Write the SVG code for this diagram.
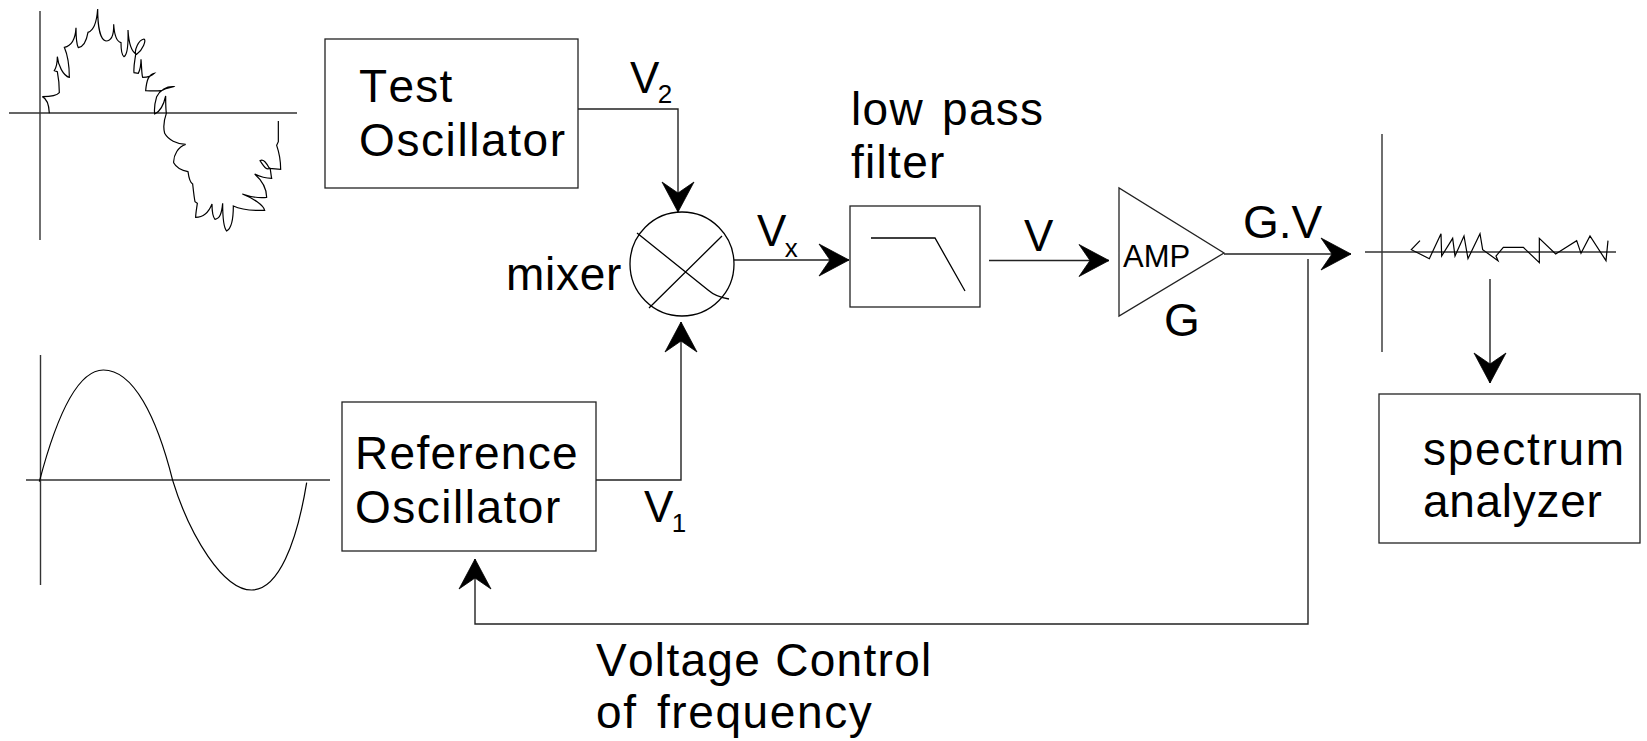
<svg xmlns="http://www.w3.org/2000/svg" width="1647" height="741" viewBox="0 0 1647 741">
<style>
text{font-family:"Liberation Sans",Arial,sans-serif;font-size:46px;fill:#000;letter-spacing:1.3px;font-kerning:none}
.s{fill:none;stroke:#000;stroke-width:1.3}
.a{fill:none;stroke:#333;stroke-width:1.4}
.w{fill:none;stroke:#000;stroke-width:3.6}
.box{fill:#fff;stroke:#222;stroke-width:1.3}
.c{fill:none;stroke:#222;stroke-width:1.4;marker-end:url(#arr)}
.v{font-size:44px}
.sub{font-size:26px}
</style>
<defs><marker id="arr" markerUnits="userSpaceOnUse" markerWidth="36" markerHeight="36" refX="30" refY="17" orient="auto" overflow="visible"><path d="M0 1L30 17L0 33L11 17Z" fill="#000" stroke="#000" stroke-width=".8" stroke-linejoin="miter"/></marker></defs>
<rect width="1647" height="741" fill="#fff"/>
<g id="connectors">
<path class="c" d="M578 109H678V212"/>
<path class="c" d="M596 480H681V322"/>
<path class="c" d="M734 260H849"/>
<path class="c" d="M989 260.500H1109"/>
<path class="c" d="M1224 254H1351"/>
<path class="c" d="M1308 259V624H475V559"/>
<path class="c" d="M1490 279V383"/>
</g>
<g id="test-waveform">
<path class="a" d="M40 11V240M9 113H297"/>
<g transform="scale(.33333)"><path class="w" d="M148 340C147 316 140 296 127 290C150 290 170 288 178 278C178 255 176 235 172 215L163 212C170 200 172 185 172 170C174 195 190 228 208 232C208 200 205 170 193 142C212 138 226 120 228 83C228 110 228 130 235 143C250 140 260 120 264 97C280 92 290 70 293 27C293 75 300 120 318 123C335 122 342 105 341 73C343 105 350 125 363 128C363 145 365 165 372 170C382 165 385 130 384 90C386 125 392 155 410 163C428 150 440 120 432 117C415 120 403 150 407 163C405 180 400 200 402 218L415 220C420 210 423 190 423 178C425 200 425 225 428 232C445 232 455 228 463 220C445 225 440 240 437 272C455 273 470 273 484 272C500 262 520 262 522 260C500 258 480 270 470 290C464 310 462 325 464 342C480 335 490 320 497 288C497 310 497 325 499 340C492 360 490 385 494 400C505 420 530 432 557 433C535 440 520 465 521 488C530 505 550 512 564 515C566 530 570 548 578 552C580 570 582 590 585 605L592 610C590 625 587 640 587 652C610 652 625 640 636 612C636 630 638 650 645 658C660 655 665 640 668 610C668 650 672 685 680 693C695 685 700 650 700 618C725 630 765 632 794 631C790 615 760 595 727 582C750 590 775 595 800 592C800 570 790 545 764 522C780 530 795 535 815 535C812 520 812 510 810 505C800 510 795 505 780 482C790 475 800 490 808 505L842 508C842 490 840 465 830 436L835 425V363"/></g>
</g>
<g id="reference-waveform">
<path class="a" d="M40.500 355V585M26 480H330"/>
<g transform="scale(.33333) translate(0 1020)"><path class="w" d="M118 425C160 265 225 90 310 90C400 90 470 230 518 421C570 590 670 750 755 750C835 750 890 610 920 428"/></g>
</g>
<g id="test-oscillator"><rect class="box" x="325" y="39" width="253" height="149"/><text x="359" y="102">Test</text><text x="359" y="156" style="letter-spacing:1.6px">Oscillator</text></g>
<g id="reference-oscillator"><rect class="box" x="342" y="402" width="254" height="149"/><text x="355" y="469">Reference</text><text x="355" y="523" style="letter-spacing:1.5px">Oscillator</text></g>
<g id="mixer"><circle class="s" cx="682" cy="264" r="52"/><path class="s" d="M637 233L708 290Q716 297 729 299M722 236L649 308"/><text x="506" y="290" style="letter-spacing:.7px">mixer</text></g>
<g id="low-pass-filter"><rect class="box" x="850" y="206" width="130" height="101"/><path class="s" d="M871 238H935L965 291"/><text x="851" y="125" style="word-spacing:4px">low pass</text><text x="851" y="178">filter</text></g>
<g id="amplifier"><path class="box" d="M1119 188V316L1224 253Z"/><text x="1123" y="267" style="font-size:31px;letter-spacing:0">AMP</text><text x="1164" y="336">G</text></g>
<g id="output-waveform">
<path class="a" d="M1365 252H1616M1382 134V352"/>
<g transform="translate(1340 200) scale(.33333)"><path class="w" d="M240 122L214 149L268 176L303 101L305 168L338 115L345 168L372 108L384 176L420 101L428 149L474 182L468 168L490 142H550L598 188V115L647 162L710 122L723 160L750 108L798 182L804 122"/></g>
</g>
<g id="spectrum-analyzer"><rect class="box" x="1379" y="394" width="261" height="149"/><text x="1423" y="465" style="letter-spacing:1.7px">spectrum</text><text x="1423" y="517" style="letter-spacing:.7px">analyzer</text></g>
<g id="labels">
<text class="v" x="630" y="93">V<tspan class="sub" dx="-3" dy="10">2</tspan></text>
<text class="v" x="644" y="522">V<tspan class="sub" dx="-3" dy="10">1</tspan></text>
<text class="v" x="757" y="246">V<tspan class="sub" dx="-3" dy="11">x</tspan></text>
<text class="v" x="1024" y="251">V</text>
<text x="1243" y="238" style="letter-spacing:0">G.V</text>
<text x="596" y="676">Voltage Control</text>
<text x="596" y="728" style="word-spacing:5px;letter-spacing:1.6px">of frequency</text>
</g>
</svg>
